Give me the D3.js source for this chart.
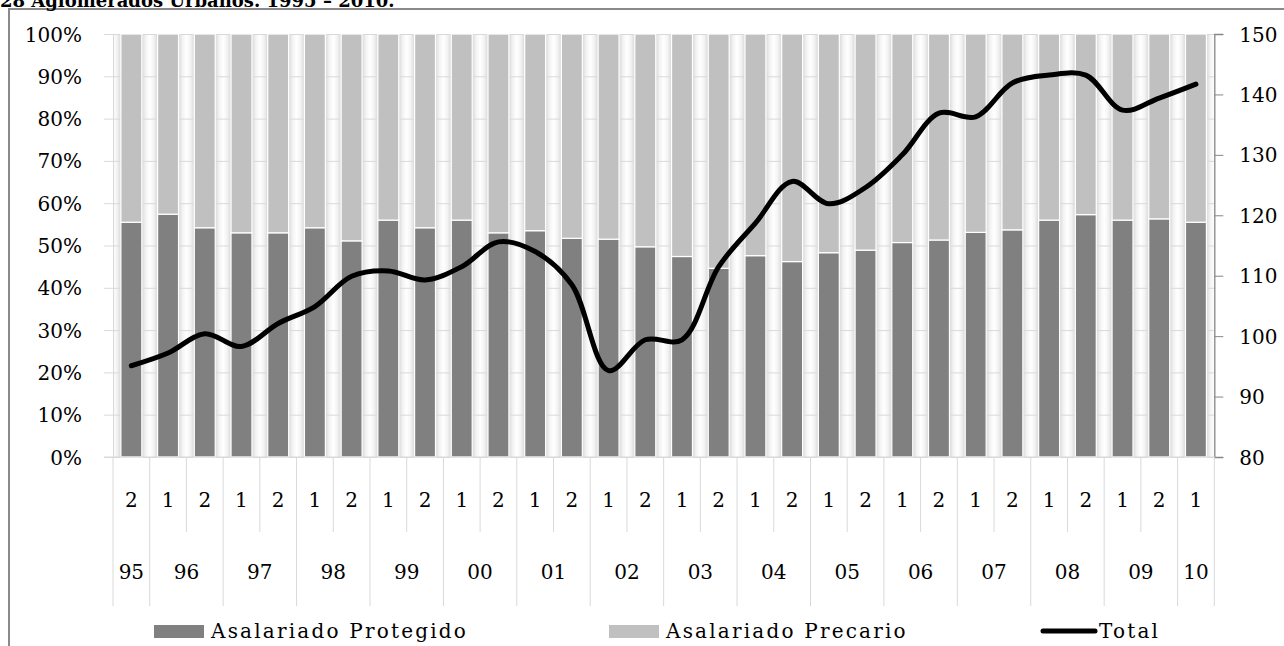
<!DOCTYPE html>
<html>
<head>
<meta charset="utf-8">
<script src="https://cdn.jsdelivr.net/npm/d3@7"></script>
<style>
  body { margin: 0; background: #fff; }
  text { font-family: "DejaVu Serif", serif; fill: #000; }
</style>
</head>
<body>
<svg id="chart" width="1284" height="646"></svg>
<script>
// semester keys (year-semester)
const semesters = ["95-2", "96-1", "96-2", "97-1", "97-2", "98-1", "98-2", "99-1", "99-2", "00-1",
  "00-2", "01-1", "01-2", "02-1", "02-2", "03-1", "03-2", "04-1", "04-2", "05-1",
  "05-2", "06-1", "06-2", "07-1", "07-2", "08-1", "08-2", "09-1", "09-2", "10-1"];
const years = ["95", "96", "97", "98", "99", "00", "01", "02", "03", "04", "05", "06", "07", "08", "09", "10"];

// % of wage earners
const protegido = [55.5, 57.4, 54.2, 53.0, 53.0, 54.2, 51.1, 56.0, 54.2, 56.0,
  53.0, 53.5, 51.7, 51.5, 49.7, 47.4, 44.6, 47.6, 46.2, 48.3,
  48.9, 50.7, 51.3, 53.1, 53.7, 56.0, 57.3, 56.0, 56.3, 55.5];
const precario = [44.5, 42.6, 45.8, 47.0, 47.0, 45.8, 48.9, 44.0, 45.8, 44.0,
  47.0, 46.5, 48.3, 48.5, 50.3, 52.6, 55.4, 52.4, 53.8, 51.7,
  51.1, 49.3, 48.7, 46.9, 46.3, 44.0, 42.7, 44.0, 43.7, 44.5];
// index, right axis
const total = [95.1, 97.2, 100.4, 98.3, 102.1, 104.9, 109.9, 110.8, 109.3, 111.5,
  115.6, 114.0, 108.5, 94.3, 99.4, 99.4, 111.5, 118.7, 125.6, 121.9,
  124.6, 130.0, 136.9, 136.3, 141.9, 143.2, 143.2, 137.4, 139.4, 141.7];

const leftTicks = [0, 10, 20, 30, 40, 50, 60, 70, 80, 90, 100];
const rightTicks = [80, 90, 100, 110, 120, 130, 140, 150];

const svg = d3.select("svg#chart");
const plot = { left: 113, right: 1214.3, top: 34, bottom: 457 };

const x = d3.scaleBand()
  .domain(semesters)
  .range([plot.left, plot.right])
  .paddingInner(0.43)
  .paddingOuter(0.215);
const y = d3.scaleLinear().domain([0, 100]).range([plot.bottom, plot.top]);
const y2 = d3.scaleLinear().domain([80, 150]).range([plot.bottom, plot.top]);

// frame + title
svg.append("rect")
  .attr("x", 9).attr("y", 9).attr("width", 1300).attr("height", 660)
  .attr("fill", "none").attr("stroke", "#8a8a8a").attr("stroke-width", 2);
svg.append("text")
  .attr("x", 0).attr("y", 7)
  .style("font-weight", "bold").style("font-size", "18px")
  .text("28 Aglomerados Urbanos. 1995 – 2010.");

// gap shading
const defs = svg.append("defs");
const grad = defs.append("linearGradient").attr("id", "gap");
[["0%", "#d8d8d8"], ["25%", "#f3f3f3"], ["50%", "#ffffff"], ["75%", "#f3f3f3"], ["100%", "#d8d8d8"]]
  .forEach(s => grad.append("stop").attr("offset", s[0]).attr("stop-color", s[1]));
defs.append("clipPath").attr("id", "plotclip").append("rect")
  .attr("x", plot.left).attr("y", plot.top)
  .attr("width", plot.right - plot.left).attr("height", plot.bottom - plot.top);

const gapW = x.step() - x.bandwidth();
const bounds = d3.range(semesters.length + 1).map(i => plot.left + i * x.step());
svg.append("g").attr("clip-path", "url(#plotclip)")
  .selectAll("rect").data(bounds).join("rect")
  .attr("x", d => d - gapW / 2).attr("y", plot.top)
  .attr("width", gapW).attr("height", plot.bottom - plot.top)
  .attr("fill", "url(#gap)");

// gridlines + left axis
const left = svg.append("g")
  .attr("transform", "translate(" + plot.left + ",0)")
  .call(d3.axisLeft(y).tickValues(leftTicks).tickSize(-(plot.right - plot.left)).tickFormat(d => d + "%"));
left.select(".domain").attr("stroke", "#d9d9d9");
left.selectAll(".tick line").attr("stroke", "#d9d9d9").attr("x1", -9);
left.selectAll(".tick text").attr("x", -31).style("font-size", "20px").attr("dy", "0.35em");

// stacked bars
const stack = semesters.map((s, i) => ({ key: s, prot: protegido[i], prec: precario[i] }));
const bars = svg.append("g");
bars.selectAll("rect.prot").data(stack).join("rect")
  .attr("class", "prot")
  .attr("x", d => x(d.key)).attr("width", x.bandwidth())
  .attr("y", d => y(d.prot)).attr("height", d => y(0) - y(d.prot))
  .attr("fill", "#808080").attr("stroke", "#fff").attr("stroke-width", 1.2);
bars.selectAll("rect.prec").data(stack).join("rect")
  .attr("class", "prec")
  .attr("x", d => x(d.key)).attr("width", x.bandwidth())
  .attr("y", d => y(d.prot + d.prec)).attr("height", d => y(d.prot) - y(d.prot + d.prec))
  .attr("fill", "#c0c0c0").attr("stroke", "#fff").attr("stroke-width", 1.2);

// right axis
const right = svg.append("g")
  .attr("transform", "translate(" + plot.right + ",0)")
  .call(d3.axisRight(y2).tickValues(rightTicks).tickSize(9).tickPadding(16));
right.select(".domain").attr("stroke", "#868686").attr("stroke-width", 1.3);
right.selectAll(".tick line").attr("stroke", "#868686");
right.selectAll(".tick text").style("font-size", "20px").attr("dy", "0.35em");

// category axis: semesters and years
const cat = svg.append("g");
cat.append("line")
  .attr("x1", plot.left - 9).attr("x2", plot.right).attr("y1", plot.bottom).attr("y2", plot.bottom)
  .attr("stroke", "#d9d9d9");
const yearStart = semesters.map((s, i) => i === 0 || s.slice(0, 2) !== semesters[i - 1].slice(0, 2));
cat.selectAll("line.sep").data(bounds).join("line")
  .attr("class", "sep")
  .attr("x1", d => d).attr("x2", d => d)
  .attr("y1", plot.bottom)
  .attr("y2", (d, i) => (i === semesters.length || yearStart[i]) ? 606 : 532)
  .attr("stroke", "#d9d9d9");
cat.selectAll("text.sem").data(semesters).join("text")
  .attr("class", "sem")
  .attr("x", d => x(d) + x.bandwidth() / 2).attr("y", 500).attr("dy", "0.35em")
  .attr("text-anchor", "middle").style("font-size", "20px")
  .text(d => d.slice(3));
cat.selectAll("text.year").data(years).join("text")
  .attr("class", "year")
  .attr("x", yr => {
    const idx = semesters.map((s, i) => s.slice(0, 2) === yr ? i : -1).filter(i => i >= 0);
    return (bounds[idx[0]] + bounds[idx[idx.length - 1] + 1]) / 2;
  })
  .attr("y", 572).attr("dy", "0.35em")
  .attr("text-anchor", "middle").style("font-size", "20px")
  .text(d => d);

// total line
const line = d3.line()
  .x((d, i) => x(semesters[i]) + x.bandwidth() / 2)
  .y(d => y2(d))
  .curve(d3.curveCatmullRom.alpha(0.5));
svg.append("path")
  .datum(total)
  .attr("d", line)
  .attr("fill", "none").attr("stroke", "#000").attr("stroke-width", 5)
  .attr("stroke-linecap", "round").attr("stroke-linejoin", "round");

// legend
const legend = svg.append("g").style("font-size", "20px").style("letter-spacing", "2.2px");
legend.append("rect").attr("x", 154).attr("y", 625).attr("width", 50).attr("height", 13).attr("fill", "#808080");
legend.append("text").attr("x", 211).attr("y", 638).text("Asalariado Protegido");
legend.append("rect").attr("x", 609).attr("y", 625).attr("width", 50).attr("height", 13).attr("fill", "#c0c0c0");
legend.append("text").attr("x", 666).attr("y", 638).text("Asalariado Precario");
legend.append("line").attr("x1", 1043).attr("x2", 1095).attr("y1", 631).attr("y2", 631)
  .attr("stroke", "#000").attr("stroke-width", 5).attr("stroke-linecap", "round");
legend.append("text").attr("x", 1099).attr("y", 638).text("Total");
</script>
</body>
</html>
